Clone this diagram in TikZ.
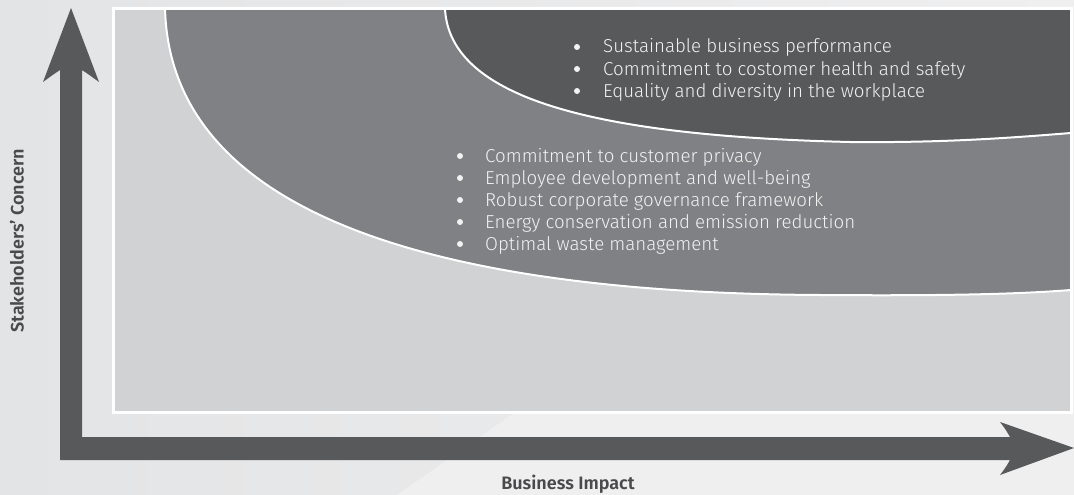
\documentclass[tikz,border=0pt]{standalone}
\usepackage{fontspec}
\setmainfont{Fira Sans}
\IfFontExistsTF{Fira Sans Light}{\newfontfamily\itemfont{Fira Sans Light}}{\newfontfamily\itemfont{Fira Sans}}
\IfFontExistsTF{Fira Sans SemiBold}{\newfontfamily\labfont{Fira Sans SemiBold}}{\newfontfamily\labfont{Fira Sans}[UprightFont=*-Bold]}
\definecolor{bgL}{HTML}{E3E4E5}
\definecolor{bgR}{HTML}{EFEFF0}
\definecolor{boxc}{HTML}{D1D2D4}
\definecolor{midc}{HTML}{808184}
\definecolor{darkc}{HTML}{58595B}
\definecolor{arrowc}{HTML}{58595B}
\definecolor{txtc}{HTML}{F2F2F2}
\definecolor{labc}{HTML}{4A4A4C}
\tikzset{
  itemtext/.style={text=txtc, font=\itemfont\fontsize{18.7}{20}\selectfont, anchor=base west, inner sep=0pt},
  bulletdot/.style={fill=txtc},
  axislabel/.style={text=labc, font=\labfont\fontsize{18}{20}\selectfont, inner sep=0pt}
}
\begin{document}
\begin{tikzpicture}[x=1pt,y=-1pt]
\useasboundingbox (0,0) rectangle (1074,495);
% background
\shade[left color=bgL, right color=bgR] (0,0) rectangle (1074,495);
\fill[bgR] (514,413) -- (1074,413) -- (1074,495) -- (397,495) -- cycle;
% light box
\fill[boxc] (113,9) rectangle (1071,412);
% medium region
\filldraw[fill=midc, draw=white, line width=2pt] (165,8) .. controls (170,220) and (450,293) .. (820,295) .. controls (950,296) and (1020,294) .. (1071,290) -- (1071,8) -- cycle;
% dark region
\filldraw[fill=darkc, draw=white, line width=2pt] (445,9) .. controls (450,100) and (600,136) .. (850,142) .. controls (950,143) and (1020,137) .. (1071,133) -- (1071,9) -- cycle;
% box border
\draw[white, line width=3pt] (113,9) rectangle (1071,412);
% axes arrow
\fill[arrowc] (60,460) -- (60,70) .. controls (54,74) .. (43,82) -- (71,8) -- (99,82) .. controls (88,74) .. (82,70) -- (82,437) -- (1010,437) .. controls (1006,430) .. (1000,422) -- (1074,448) -- (1000,475) .. controls (1006,467) .. (1010,460) -- cycle;
% dark items
\foreach \y/\t [count=\i] in {53/Sustainable business performance, 75/Commitment to costomer health and safety, 97/Equality and diversity in the workplace} {
  \fill[bulletdot] (577,\y-6) circle (3);
  \node[itemtext] (d\i) at (603,\y) {\t};
}
% medium items
\foreach \y/\t [count=\i] in {162/Commitment to customer privacy, 184/Employee development and well-being, 206/Robust corporate governance framework, 228/Energy conservation and emission reduction, 250/Optimal waste management} {
  \fill[bulletdot] (460,\y-6) circle (3);
  \node[itemtext] (m\i) at (485,\y) {\t};
}
% axis labels
\node[axislabel, rotate=90] (ylab) at (17,241) {Stakeholders’ Concern};
\node[axislabel] (xlab) at (568,484) {Business Impact};
\end{tikzpicture}
\end{document}
